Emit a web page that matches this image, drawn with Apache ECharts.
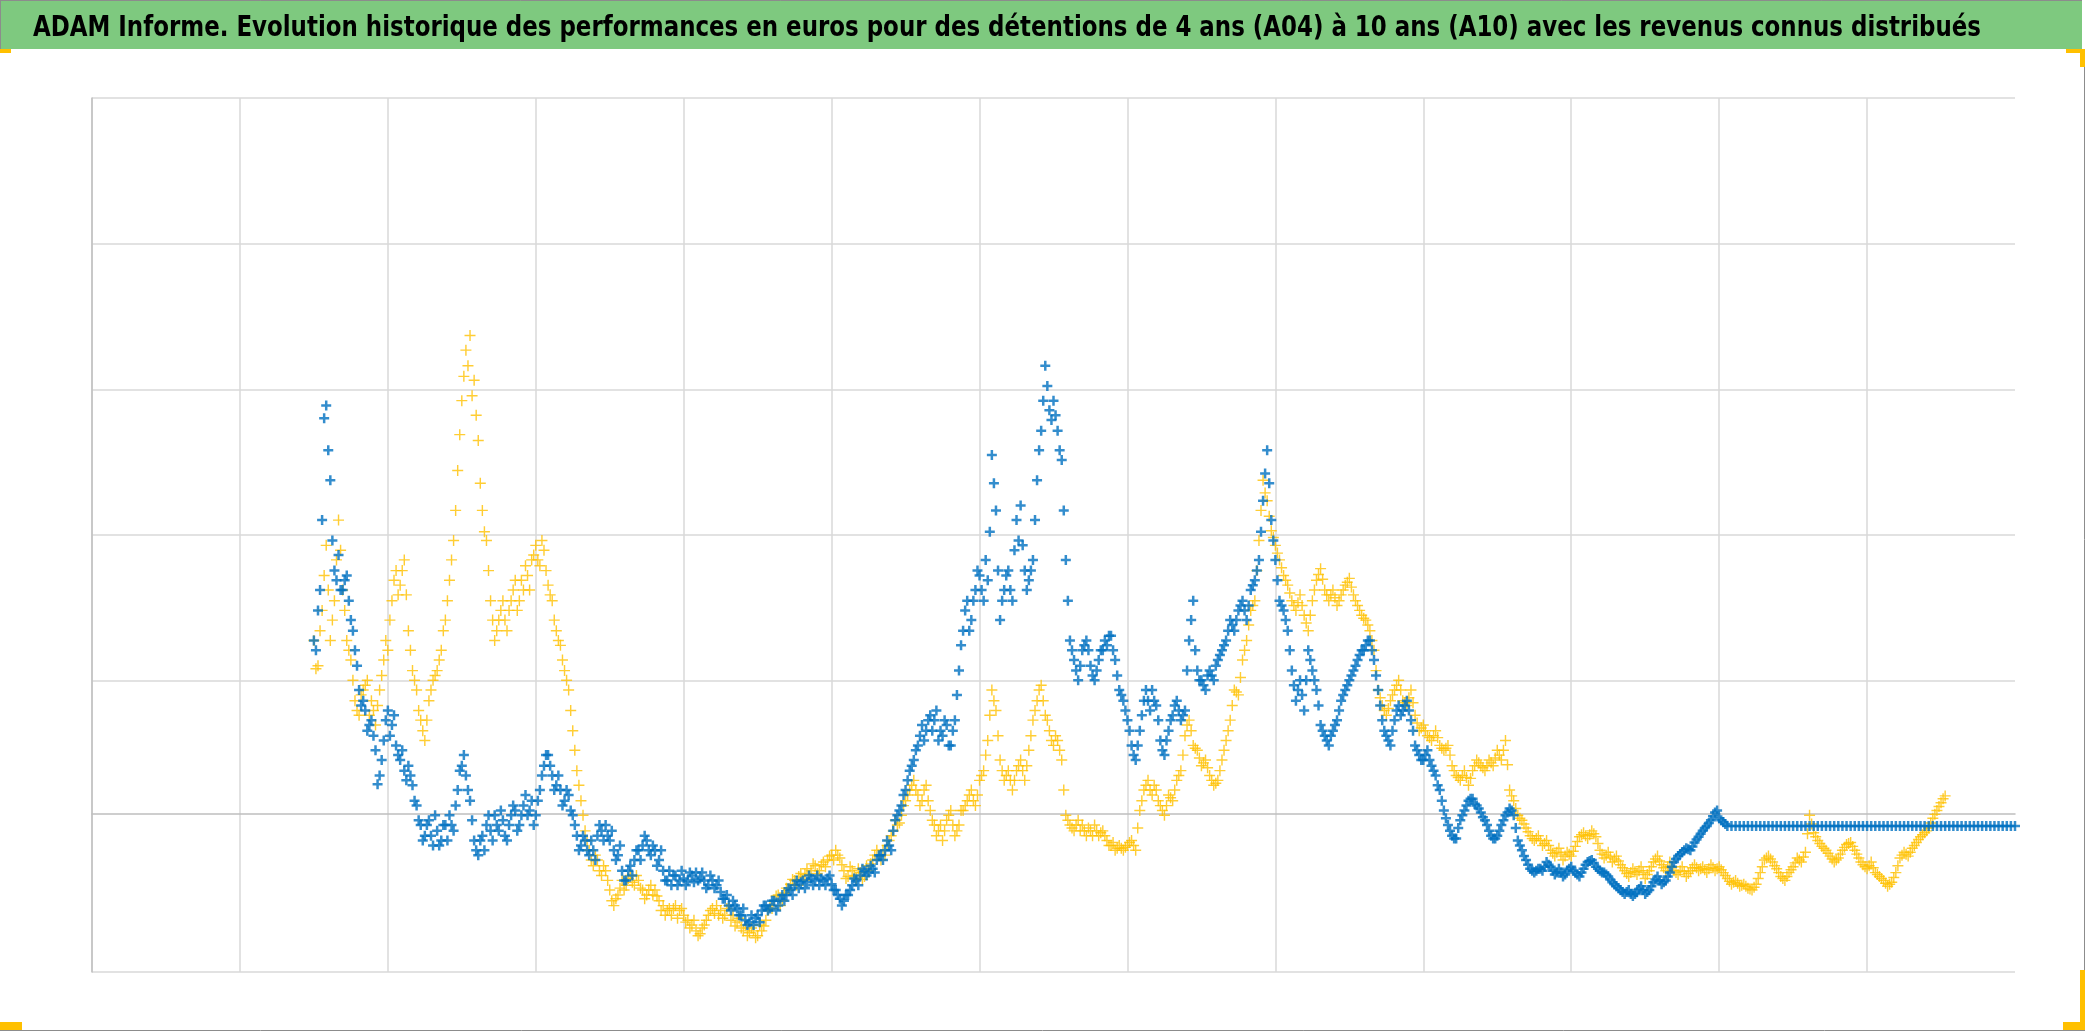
<!DOCTYPE html>
<html><head><meta charset="utf-8">
<script src="https://cdn.jsdelivr.net/npm/echarts@6/dist/echarts.min.js"></script>
<style>html,body{margin:0;padding:0;background:#fff}#c{width:2086px;height:1031px}</style>
</head><body><div id="c"></div>
<script>
const TITLE = "ADAM Informe. Evolution historique des performances en euros pour des détentions de 4 ans (A04) à 10 ans (A10) avec les revenus connus distribués";
const seriesNames = ["A04", "A10"];
// x axis in years, readings every 1/36 year starting mid-2006 (second readings half a step later)
const xMin = 2005, xMax = 2018, xInterval = 1;
const xStart = 2006.5, xStep = 1 / 36;
// y values (euros), gridlines every 150
const yMin = -163.35, yMax = 736.65;

const blueY = [
178,209,302,420,343,250,266,230,245,199,168,127,116,85,96,65,39,75,
106,91,70,55,44,49,29,8,-12,-23,-7,-33,-18,-28,-12,-2,-18,24,49,39,13,-28,-43,-23,-12,-18,-2,-18,-7,-28,-2,3,-12,8,-2,13,
-2,24,49,60,39,29,24,13,19,-2,-23,-33,-28,-43,-38,-23,-18,-12,-28,-38,-43,-59,-69,-54,-48,-38,-33,-28,-43,-38,-48,-59,-69,-74,-64,-69,
-67,-69,-64,-61,-67,-69,-74,-69,-74,-81,-88,-95,-90,-98,-105,-110,-112,-115,-105,-100,-95,-98,-90,-95,-84,-84,-79,-74,-77,-69,-71,-67,-69,-74,-69,-67,
-73,-79,-88,-90,-84,-74,-69,-64,-59,-61,-57,-48,-43,-38,-33,-18,-2,8,24,44,55,70,91,85,101,96,75,80,91,70,96,147,188,219,199,230,
245,219,240,369,312,199,230,250,219,302,317,250,240,261,343,394,461,415,425,394,364,261,178,158,137,168,178,152,137,158,168,173,183,158,127,116,
96,70,55,85,116,116,127,111,75,60,85,101,116,96,106,178,219,147,137,127,147,137,158,168,178,199,188,209,219,199,230,240,261,322,374,302,
261,219,209,188,147,116,137,106,168,147,127,91,80,70,85,96,116,127,137,147,158,168,173,178,158,127,96,80,70,96,111,106,116,96,70,60,
55,65,49,39,24,3,-12,-23,-26,-7,3,13,15,8,1,-7,-18,-26,-23,-12,-2,5,-2,-28,-38,-48,-57,-61,-57,-59,-50,-55,-63,-57,-65,-59,
-55,-61,-65,-57,-50,-48,-55,-59,-61,-65,-71,-75,-79,-83,-79,-85,-81,-75,-83,-79,-71,-65,-73,-69,-61,-50,-44,-40,-36,-38,-30,-24,-18,-13,-7,1,
-5,-9,-13,-13,-13,-13,-13,-13,-13,-13,-13,-13,-13,-13,-13,-13,-13,-13,-13,-13,-13,-13,-13,-13,-13,-13,-13,-13,-13,-13,-13,-13,-13,-13,-13,-13,
-13,-13,-13,-13,-13,-13,-13,-13,-13,-13,-13,-13,-13,-13,-13,-13,-13,-13,-13,-13,-13,-13,-13,-13,-13,-13,-13,-13,-13,-13,-13,-13,-13,-13,-13,-13,
-13
];
const blueY2 = [
168,230,407,374,281,240,230,240,219,188,152,111,106,91,80,30,55,96,
80,101,60,65,34,39,13,-7,-28,-12,-23,-2,-33,-12,-28,-12,8,44,60,24,-7,-38,-28,-38,-2,-28,-12,3,-23,-12,8,-18,-2,19,3,-12,
13,39,60,49,24,39,8,24,3,-12,-38,-23,-38,-28,-48,-12,-28,-23,-18,-48,-33,-69,-59,-64,-38,-48,-23,-38,-33,-54,-38,-69,-59,-64,-74,-59,
-74,-61,-71,-69,-61,-77,-64,-77,-69,-88,-84,-100,-95,-105,-98,-115,-105,-108,-112,-95,-100,-90,-100,-88,-90,-77,-84,-69,-71,-77,-64,-74,-64,-67,-74,-64,
-79,-84,-95,-84,-79,-67,-74,-57,-64,-54,-61,-43,-48,-28,-38,-7,3,19,34,49,65,80,75,96,85,106,85,96,70,85,122,173,209,188,219,250,
230,261,290,340,250,219,245,230,271,281,276,230,250,302,374,425,440,405,410,374,312,219,168,147,152,173,168,142,147,168,178,183,168,142,122,106,
85,60,70,101,127,106,116,96,65,75,96,111,106,101,147,199,168,137,132,142,142,152,163,173,188,194,199,214,209,214,235,250,290,350,340,281,
240,214,199,168,132,127,122,137,158,137,111,85,75,80,91,106,122,132,142,152,163,168,178,168,142,111,85,75,85,106,101,111,106,85,65,55,
60,55,44,29,13,-5,-18,-26,-15,-2,8,15,10,5,-4,-12,-23,-26,-18,-7,1,3,-15,-33,-44,-53,-59,-59,-57,-55,-53,-59,-61,-61,-63,-57,
-59,-63,-61,-53,-49,-51,-57,-61,-63,-68,-73,-77,-81,-81,-83,-83,-78,-79,-81,-75,-68,-69,-71,-65,-55,-47,-42,-38,-37,-34,-27,-21,-15,-10,-3,3,
-7,-11
];

const yellowY = [
178,152,209,276,178,219,302,230,178,158,116,101,127,137,116,91,127,158,
168,219,250,235,261,188,147,127,96,75,116,137,147,168,199,240,281,353,425,477,492,446,384,312,281,219,178,199,219,188,219,240,219,230,245,261,
276,255,271,235,219,188,173,147,127,85,44,13,-18,-38,-54,-48,-64,-59,-79,-95,-84,-69,-74,-64,-74,-69,-79,-84,-74,-79,-90,-95,-100,-105,-95,-100,
-105,-110,-115,-121,-124,-115,-105,-98,-95,-100,-105,-95,-105,-112,-118,-115,-123,-121,-126,-121,-110,-95,-90,-84,-90,-77,-73,-69,-65,-69,-57,-59,-54,-59,-50,-48,
-43,-38,-46,-59,-65,-59,-67,-61,-65,-59,-48,-38,-48,-43,-28,-18,-12,-2,13,24,34,19,13,29,3,-12,-18,-28,-7,3,-23,-12,3,13,24,8,
34,44,75,127,106,55,34,44,24,44,55,34,65,96,116,132,101,85,70,75,55,-2,-12,-18,-7,-12,-23,-18,-12,-23,-18,-28,-33,-38,-33,-38,
-33,-28,-38,3,24,34,19,24,8,-2,19,13,34,44,80,96,70,65,49,55,39,29,34,55,75,96,127,122,158,178,209,219,281,343,322,291,
276,261,245,235,219,209,225,204,188,219,240,252,230,219,230,214,225,235,242,225,214,204,199,188,168,127,111,101,116,127,137,116,111,127,101,85,
91,80,75,85,70,65,70,49,39,34,44,29,44,55,49,44,55,49,65,55,75,24,13,-2,-7,-15,-23,-28,-23,-33,-28,-38,-44,-36,-48,-40,
-44,-34,-24,-20,-26,-18,-24,-38,-46,-40,-50,-44,-53,-59,-65,-57,-63,-55,-67,-59,-50,-44,-53,-59,-50,-59,-63,-55,-65,-59,-53,-59,-55,-61,-53,-59,
-55,-61,-67,-73,-69,-75,-73,-77,-79,-73,-61,-48,-44,-50,-57,-65,-69,-61,-55,-46,-50,-40,-2,-20,-28,-34,-38,-44,-50,-46,-38,-32,-30,-38,-46,-53,
-57,-50,-61,-65,-69,-75,-71,-61,-46,-40,-44,-36,-30,-24,-20,-15,-5,3,11,18
];
const yellowY2 = [
149,188,245,230,199,261,271,209,168,137,106,122,132,101,106,111,142,178,
199,240,225,250,225,168,137,106,85,96,127,142,158,188,219,261,312,390,450,461,430,410,340,290,250,199,188,209,199,209,230,209,240,255,230,266,
261,281,250,225,199,178,158,137,106,65,29,-2,-28,-48,-43,-59,-54,-69,-90,-88,-77,-79,-67,-71,-64,-77,-88,-79,-84,-85,-100,-105,-98,-98,-108,-98,
-112,-118,-110,-126,-118,-110,-100,-103,-105,-108,-98,-110,-116,-108,-121,-126,-118,-128,-115,-116,-100,-98,-85,-95,-82,-79,-68,-74,-62,-63,-64,-52,-62,-53,-55,-44,
-48,-43,-53,-67,-55,-64,-57,-68,-54,-52,-43,-44,-38,-33,-23,-7,-10,8,19,29,24,8,24,13,-7,-23,-12,-18,-2,-12,-18,3,8,19,13,19,
39,60,101,116,80,44,39,34,34,49,44,49,80,106,127,116,96,75,80,65,24,-7,-15,-12,-18,-18,-15,-23,-18,-20,-23,-33,-30,-36,-36,-35,
-30,-33,-15,13,29,24,29,13,3,8,16,24,39,60,91,85,67,57,52,47,34,31,44,65,85,111,125,140,168,194,214,250,312,330,306,284,
268,253,240,227,214,217,214,196,204,230,246,241,225,225,222,219,230,238,233,219,209,201,194,178,147,119,106,108,122,132,127,114,119,114,93,88,
85,78,80,78,67,67,60,44,37,39,37,36,49,52,47,49,52,57,60,65,50,18,5,-5,-11,-19,-26,-26,-28,-31,-33,-41,-40,-42,-44,-42,
-39,-29,-22,-23,-22,-21,-31,-42,-43,-45,-47,-49,-56,-62,-61,-60,-59,-61,-63,-55,-47,-49,-56,-55,-55,-61,-59,-60,-62,-56,-56,-57,-58,-57,-56,-57,
-58,-64,-70,-71,-72,-74,-75,-78,-76,-67,-55,-46,-47,-54,-61,-67,-65,-58,-51,-48,-45,-21,-11,-24,-31,-36,-41,-47,-48,-42,-35,-31,-34,-42,-50,-55,
-54,-56,-63,-67,-72,-73,-66,-54,-43,-42,-40,-33,-27,-22,-18,-10,-1,7,15
];

function toPoints(arr, offset) { return arr.map((v, i) => [xStart + (i + offset) * xStep, v]); }

function fitTitle() {
  const ctx = document.createElement('canvas').getContext('2d');
  ctx.font = 'bold 29px monospace';
  const mono = ctx.measureText(TITLE).width;
  const fams = ['"Liberation Sans Narrow"', '"DejaVu Sans Condensed"', '"Liberation Sans"'];
  for (const f of fams) {
    ctx.font = 'bold 29px ' + f + ', monospace';
    const w = ctx.measureText(TITLE).width;
    if (Math.abs(w - mono) > 1) return { family: f.replace(/"/g, ''), size: 29, scaleX: 1948 / w };
  }
  return { family: 'sans-serif', size: 29, scaleX: 1 };
}
const tf = fitTitle();

const GRID_C = '#d9d9d9';
const AXIS_C = '#bfbfbf';
const plusBold = 'path://M3.75,0H6.25V3.75H10V6.25H6.25V10H3.75V6.25H0V3.75H3.75Z';
const plusThin = 'path://M4.35,0H5.65V4.35H10V5.65H5.65V10H4.35V5.65H0V4.35H4.35Z';

const chart = echarts.init(document.getElementById('c'), null, { renderer: 'canvas' });
chart.setOption({
  animation: false,
  backgroundColor: '#ffffff',
  graphic: [
    { type: 'rect', shape: { x: 0, y: 0, width: 2082, height: 49 }, style: { fill: '#7ec97f' }, z: 0 },
    { type: 'line', shape: { x1: 0, y1: 0.5, x2: 2082, y2: 0.5 }, style: { stroke: '#8c8c8c', lineWidth: 1 } },
    { type: 'line', shape: { x1: 0.5, y1: 0, x2: 0.5, y2: 49 }, style: { stroke: '#8c8c8c', lineWidth: 1 } },
    { type: 'line', shape: { x1: 2084.5, y1: 49, x2: 2084.5, y2: 1030 }, style: { stroke: '#8c8c8c', lineWidth: 1 } },
    { type: 'line', shape: { x1: 0, y1: 1030.5, x2: 2085, y2: 1030.5 }, style: { stroke: '#8c8c8c', lineWidth: 1 } },
    { type: 'rect', shape: { x: 0, y: 49, width: 11, height: 4 }, style: { fill: '#FFC000' } },
    { type: 'rect', shape: { x: 2066, y: 49, width: 19, height: 4 }, style: { fill: '#FFC000' } },
    { type: 'rect', shape: { x: 2080, y: 49, width: 5, height: 18 }, style: { fill: '#FFC000' } },
    { type: 'rect', shape: { x: 0, y: 1022, width: 22, height: 8 }, style: { fill: '#FFC000' } },
    { type: 'rect', shape: { x: 2080, y: 970, width: 5, height: 60 }, style: { fill: '#FFC000' } },
    { type: 'rect', shape: { x: 2063, y: 1022, width: 22, height: 8 }, style: { fill: '#FFC000' } },
    { type: 'text', x: 33, y: 28, scaleX: tf.scaleX, scaleY: 1,
      style: { text: TITLE, fontSize: tf.size, fontWeight: 'bold', fontFamily: tf.family, fill: '#000', verticalAlign: 'middle', align: 'left' }, z: 10 }
  ],
  grid: { left: 92, top: 98, width: 1923, height: 874, containLabel: false },
  xAxis: {
    type: 'value', min: xMin, max: xMax, interval: xInterval,
    axisLine: { show: true, onZero: true, onZeroAxisIndex: 0, lineStyle: { color: AXIS_C, width: 1.5 } },
    axisTick: { show: false }, axisLabel: { show: false },
    splitLine: { show: true, showMaxLine: false, lineStyle: { color: GRID_C, width: 1.5 } }
  },
  yAxis: [
    { type: 'value', min: yMin, max: yMax, position: 'left',
      axisLine: { show: false }, axisTick: { show: false }, axisLabel: { show: false }, splitLine: { show: false } },
    { type: 'value', min: 0, max: 6, interval: 1, position: 'left',
      axisLine: { show: true, onZero: false, lineStyle: { color: AXIS_C, width: 1.5 } },
      axisTick: { show: false }, axisLabel: { show: false },
      splitLine: { show: true, lineStyle: { color: [GRID_C, 'rgba(0,0,0,0)', GRID_C, GRID_C, GRID_C, GRID_C, GRID_C], width: 1.5 } } }
  ],
  series: [
    { name: seriesNames[1], type: 'scatter', yAxisIndex: 0, data: toPoints(yellowY, 0).concat(toPoints(yellowY2, 0.5)),
      symbol: plusThin, symbolSize: 11, symbolKeepAspect: true, itemStyle: { color: '#FFC000' }, silent: true, z: 2 },
    { name: seriesNames[0], type: 'scatter', yAxisIndex: 0, data: toPoints(blueY, 0).concat(toPoints(blueY2, 0.5)),
      symbol: plusBold, symbolSize: 10, symbolKeepAspect: true, itemStyle: { color: '#0070C0' }, silent: true, z: 3 }
  ]
});
</script>
</body></html>
